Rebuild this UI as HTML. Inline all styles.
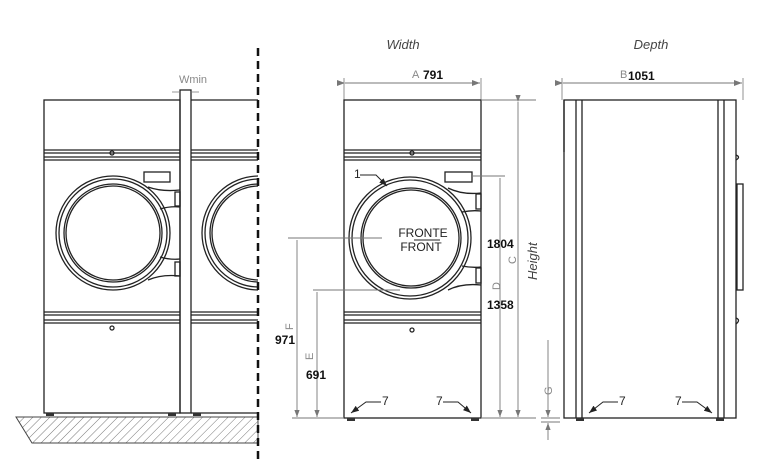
<!DOCTYPE html>
<html><head><meta charset="utf-8"><style>
html,body{margin:0;padding:0;background:#fff;}
svg{display:block;font-family:"Liberation Sans",sans-serif;}
</style></head><body>
<svg width="765" height="469" viewBox="0 0 765 469" xmlns="http://www.w3.org/2000/svg">
<defs>
<pattern id="h" width="6" height="6" patternUnits="userSpaceOnUse" patternTransform="rotate(45)">
<line x1="0" y1="0" x2="0" y2="6" stroke="#555" stroke-width="0.8"/>
</pattern>
<clipPath id="cl"><rect x="191" y="90" width="67" height="330"/></clipPath>
<marker id="ar" markerWidth="8" markerHeight="6" refX="8" refY="3" orient="auto"><path d="M0,0 L8,3 L0,6z" fill="#777"/></marker>
<marker id="ab" markerWidth="8" markerHeight="6" refX="8" refY="3" orient="auto"><path d="M0,0 L8,3 L0,6z" fill="#222"/></marker>
</defs>

<polygon points="16,417 258,417 258,443 32,443" fill="url(#h)" stroke="#444" stroke-width="1"/>
<g fill="none" stroke="#222" stroke-width="1.3">
<rect x="44" y="100" width="136" height="313"/>
<line x1="191" y1="100" x2="258" y2="100"/>
<line x1="191" y1="413" x2="258" y2="413"/>
<rect x="180" y="90" width="11" height="323"/>
<path d="M44,150H180M44,153H180M44,157H180M44,160H180"/>
<path d="M191,150H258M191,153H258M191,157H258M191,160H258"/>
<path d="M44,312H180M44,315H180M44,320H180M44,323H180"/>
<path d="M191,312H258M191,315H258M191,320H258M191,323H258"/>
<circle cx="113" cy="233" r="57"/><circle cx="113" cy="233" r="54"/>
<circle cx="113" cy="233" r="49"/><circle cx="113" cy="233" r="47"/>
<path d="M148,187 Q162,192 180,190 M160,209 Q170,206 180,207 M160,257 Q170,260 180,259 M148,280 Q162,274 180,276"/>
<rect x="175" y="192" width="5" height="14"/><rect x="175" y="262" width="5" height="14"/>
<rect x="144" y="172" width="26" height="10"/>
<circle cx="112" cy="153" r="2"/><circle cx="112" cy="328" r="2"/>
<g clip-path="url(#cl)">
<circle cx="259" cy="233" r="57"/><circle cx="259" cy="233" r="54"/>
<circle cx="259" cy="233" r="49"/><circle cx="259" cy="233" r="47"/>
</g>
</g>
<g fill="#333"><rect x="46" y="413" width="8" height="3"/><rect x="168" y="413" width="8" height="3"/><rect x="193" y="413" width="8" height="3"/></g>
<text x="193" y="83" font-size="11" fill="#888" text-anchor="middle">Wmin</text>
<path d="M172,92H180M199,92H191" stroke="#777" stroke-width="0.8"/>
<line x1="258" y1="48" x2="258" y2="462" stroke="#111" stroke-width="2.5" stroke-dasharray="8,5"/>

<text x="403" y="49" font-size="13" font-style="italic" fill="#444" text-anchor="middle">Width</text>
<text x="412" y="78" font-size="11" fill="#888">A</text>
<text x="423" y="79" font-size="12" font-weight="bold" fill="#111">791</text>
<line x1="345" y1="83" x2="480" y2="83" stroke="#777" marker-end="url(#ar)" marker-start="url(#ar)"/>
<path d="M344,78V100M481,78V100" stroke="#777" stroke-width="0.8"/>
<g fill="none" stroke="#222" stroke-width="1.3">
<rect x="344" y="100" width="137" height="318"/>
<path d="M344,150H481M344,153H481M344,157H481M344,160H481"/>
<path d="M344,312H481M344,315H481M344,320H481M344,323H481"/>
<circle cx="410" cy="238" r="61"/><circle cx="410" cy="238" r="58"/>
<circle cx="411" cy="238" r="50"/><circle cx="411" cy="238" r="48"/>
<path d="M448,188 Q462,195 481,193 M462,212 Q472,210 481,211 M462,266 Q472,268 481,267 M448,290 Q462,283 481,285"/>
<rect x="476" y="194" width="5" height="15"/><rect x="476" y="268" width="5" height="15"/>
<rect x="445" y="172" width="27" height="10"/>
<circle cx="412" cy="153" r="2"/><circle cx="412" cy="330" r="2"/>
</g>
<g fill="#333"><rect x="347" y="418" width="8" height="3"/><rect x="471" y="418" width="8" height="3"/></g>
<text x="423" y="237" font-size="12" fill="#222" text-anchor="middle">FRONTE</text>
<line x1="414" y1="240" x2="440" y2="240" stroke="#222"/>
<text x="421" y="251" font-size="12" fill="#222" text-anchor="middle">FRONT</text>
<text x="354" y="178" font-size="12" fill="#222">1</text>
<path d="M360,175H376L387,186" fill="none" stroke="#222" marker-end="url(#ab)"/>
<text x="382" y="405" font-size="12" fill="#222">7</text>
<path d="M381,402H366L351,413" fill="none" stroke="#222" marker-end="url(#ab)"/>
<text x="436" y="405" font-size="12" fill="#222">7</text>
<path d="M443,402H458L471,413" fill="none" stroke="#222" marker-end="url(#ab)"/>
<g stroke="#777" stroke-width="0.9" fill="none">
<line x1="288" y1="238" x2="382" y2="238"/>
<line x1="313" y1="290" x2="400" y2="290"/>
<line x1="297" y1="240" x2="297" y2="417" marker-end="url(#ar)"/>
<line x1="317" y1="292" x2="317" y2="417" marker-end="url(#ar)"/>
<line x1="292" y1="418" x2="344" y2="418"/>
<line x1="481" y1="418" x2="536" y2="418"/>
<line x1="481" y1="100" x2="536" y2="100"/>
<line x1="472" y1="176" x2="505" y2="176"/>
<line x1="500" y1="178" x2="500" y2="417" marker-end="url(#ar)"/>
<line x1="518" y1="102" x2="518" y2="417" marker-end="url(#ar)" marker-start="url(#ar)"/>
<line x1="548" y1="340" x2="548" y2="417" marker-end="url(#ar)"/>
<line x1="548" y1="440" x2="548" y2="423" marker-end="url(#ar)"/>
<line x1="541" y1="418" x2="560" y2="418"/>
<line x1="541" y1="422" x2="560" y2="422"/>
</g>
<text transform="translate(293,330) rotate(-90)" font-size="11" fill="#888">F</text>
<text transform="translate(313,360) rotate(-90)" font-size="11" fill="#888">E</text>
<text transform="translate(500,290) rotate(-90)" font-size="11" fill="#888">D</text>
<text transform="translate(516,264) rotate(-90)" font-size="11" fill="#888">C</text>
<text transform="translate(552,395) rotate(-90)" font-size="11" fill="#888">G</text>
<text transform="translate(537,280) rotate(-90)" font-size="13" font-style="italic" fill="#444">Height</text>
<g font-size="12" font-weight="bold" fill="#111">
<text x="275" y="344">971</text>
<text x="306" y="379">691</text>
<text x="487" y="248">1804</text>
<text x="487" y="309">1358</text>
</g>

<text x="651" y="49" font-size="13" font-style="italic" fill="#444" text-anchor="middle">Depth</text>
<text x="620" y="78" font-size="11" fill="#888">B</text>
<text x="628" y="80" font-size="12" font-weight="bold" fill="#111">1051</text>
<line x1="563" y1="83" x2="742" y2="83" stroke="#777" marker-end="url(#ar)" marker-start="url(#ar)"/>
<path d="M562,78V100M743,78V100" stroke="#777" stroke-width="0.8"/>
<g fill="none" stroke="#222" stroke-width="1.3">
<rect x="564" y="100" width="172" height="318"/>
<path d="M576,100V418M582,100V418M718,100V418M724,100V418"/>
<rect x="737" y="184" width="6" height="106"/>
<path d="M564,100V152M736,155Q741,157 736,160M736,318Q741,320 736,324"/>
</g>
<g fill="#333"><rect x="576" y="418" width="8" height="3"/><rect x="716" y="418" width="8" height="3"/></g>
<text x="619" y="405" font-size="12" fill="#222">7</text>
<path d="M618,402H603L589,413" fill="none" stroke="#222" marker-end="url(#ab)"/>
<text x="675" y="405" font-size="12" fill="#222">7</text>
<path d="M682,402H697L712,413" fill="none" stroke="#222" marker-end="url(#ab)"/>
</svg>
</body></html>
